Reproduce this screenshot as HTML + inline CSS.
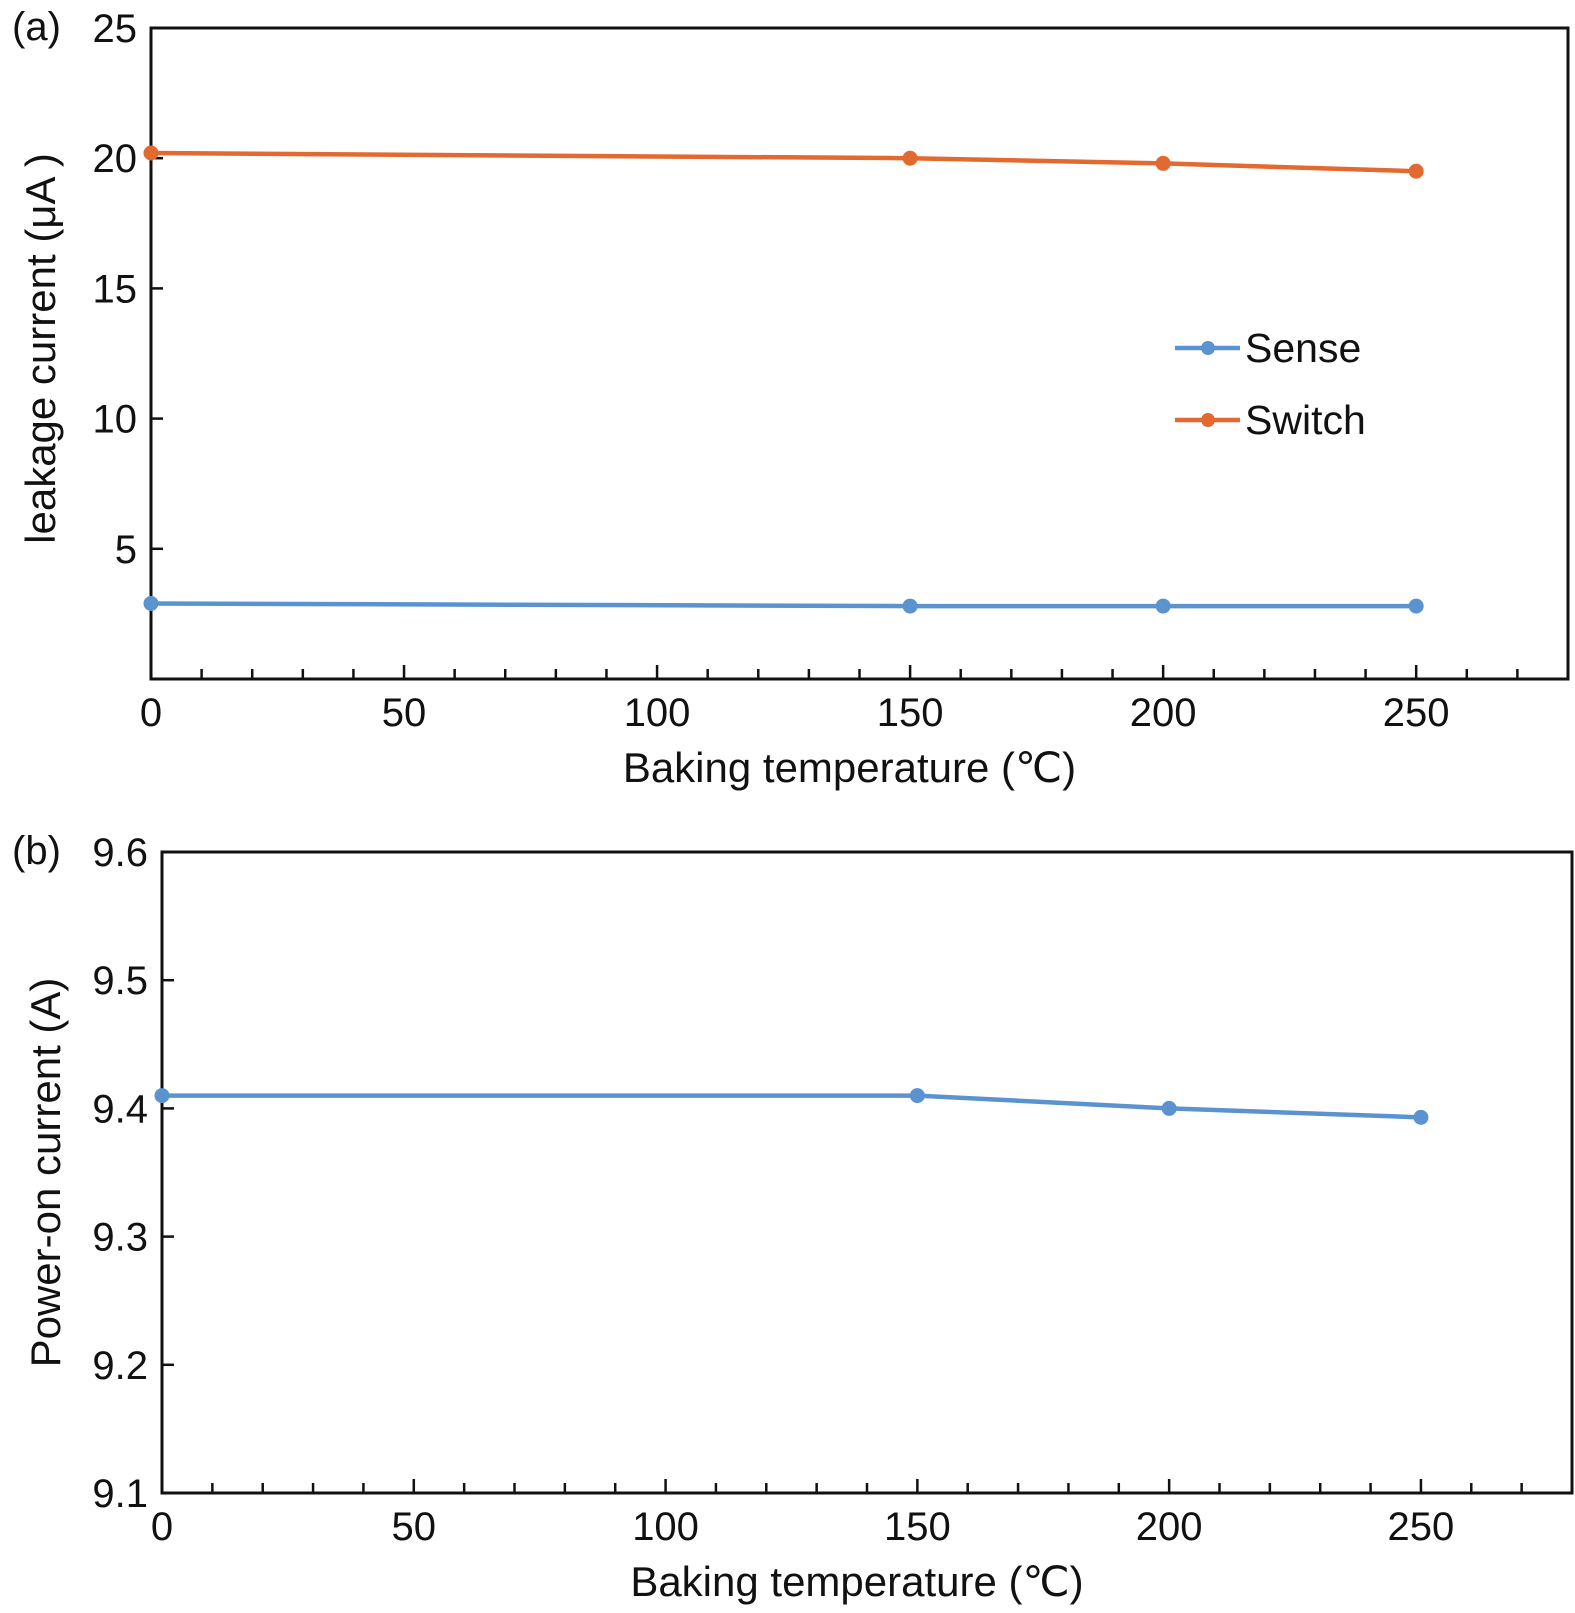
<!DOCTYPE html>
<html><head><meta charset="utf-8"><style>
html,body{margin:0;padding:0;background:#fff}
svg{display:block}
text{font-family:"Liberation Sans",sans-serif;fill:#111}
</style></head><body>
<svg id="c" width="1575" height="1613" viewBox="0 0 1575 1613"></svg>
<script>
const xCats=[0,150,200,250];
const switchVals=[20.2,20.0,19.8,19.5];
const senseVals=[2.9,2.8,2.8,2.8];
const powerVals=[9.41,9.41,9.40,9.393];
const xTicks=[0,50,100,150,200,250];
const yTicksA=[5,10,15,20,25];
const yTicksB=[9.1,9.2,9.3,9.4,9.5,9.6];
const NS='http://www.w3.org/2000/svg';
const svg=document.getElementById('c');
function mk(t,a,p){const e=document.createElementNS(NS,t);for(const k in a)e.setAttribute(k,a[k]);(p||svg).appendChild(e);return e;}
function panel(P){
 const g=mk('g',{});
 
 
 const sx=v=>P.l+(v-0)/(280)*(P.r-P.l);
 const sy=v=>P.b-(v-P.y0)/(P.y1-P.y0)*(P.b-P.t);
 const fr=mk('rect',{x:P.l,y:P.t,width:P.r-P.l,height:P.b-P.t,fill:'none',stroke:'#111','stroke-width':3},g);
 
 
 for(let v=10;v<280;v+=10){
  const major=v%50===0;
  const tk=mk('line',{x1:sx(v),x2:sx(v),y1:P.b,y2:P.b-(major?14:10),stroke:'#111','stroke-width':2.5},g);
  
  
 }
 xTicks.forEach(v=>{const t=mk('text',{x:sx(v),y:P.b+47,'font-size':40,'text-anchor':'middle'},g);t.textContent=v;
  
  });
 P.yt.forEach(v=>{const y=sy(v);
  const tk=mk('line',{x1:P.l,x2:P.l+12,y1:y,y2:y,stroke:'#111','stroke-width':2.5},g);
  
  
  const t=mk('text',{x:P.l-14,y:y+14,'font-size':40,'text-anchor':'end'},g);t.textContent=P.fmt(v);
  
  });
 const xt=mk('text',{x:(P.l+P.r)/2-10,y:P.b+103,'font-size':42,'text-anchor':'middle'},g);xt.textContent='Baking temperature  (\u2103)';
 
 
 const yt=mk('text',{x:0,y:0,'font-size':42,'text-anchor':'middle',transform:`translate(${P.ytx},${(P.t+P.b)/2+P.yoff}) rotate(-90)`},g);yt.textContent=P.ytitle;
 
 
 const pl=mk('text',{x:12,y:P.t+12,'font-size':40},g);pl.textContent=P.label;
 
 
 P.series.forEach(s=>{
  const pts=xCats.map((x,i)=>sx(x)+','+sy(s.vals[i])).join(' ');
  const ln=mk('polyline',{points:pts,fill:'none',stroke:s.c,'stroke-width':4.5},g);
  
  
  xCats.forEach((x,i)=>{const c=mk('circle',{cx:sx(x),cy:sy(s.vals[i]),r:7.5,fill:s.c},g);
   
   });
 });
}
panel({name:'panel-a',l:151,r:1568,t:28,b:679,y0:0,y1:25,yt:yTicksA,fmt:v=>v,ytx:55,yoff:-5,ytitle:'leakage current (\u03bcA )',label:'(a)',
 series:[{n:'switch',vals:switchVals,c:'#E2692F'},{n:'sense',vals:senseVals,c:'#5B93D0'}]});
panel({name:'panel-b',l:162,r:1572,t:852,b:1493,y0:9.1,y1:9.6,yt:yTicksB,fmt:v=>v.toFixed(1),ytx:60,yoff:0,ytitle:'Power-on current (A)',label:'(b)',
 series:[{n:'power',vals:powerVals,c:'#5B93D0'}]});
[['Sense','#5B93D0',348],['Switch','#E2692F',420]].forEach(([n,c,y])=>{
 const g=mk('g',{});
 
 
 mk('line',{x1:1175,x2:1240,y1:y,y2:y,stroke:c,'stroke-width':4.5},g);
 mk('circle',{cx:1208,cy:y,r:7,fill:c},g);
 const t=mk('text',{x:1245,y:y+14,'font-size':41},g);t.textContent=n;
});
</script>
</body></html>
